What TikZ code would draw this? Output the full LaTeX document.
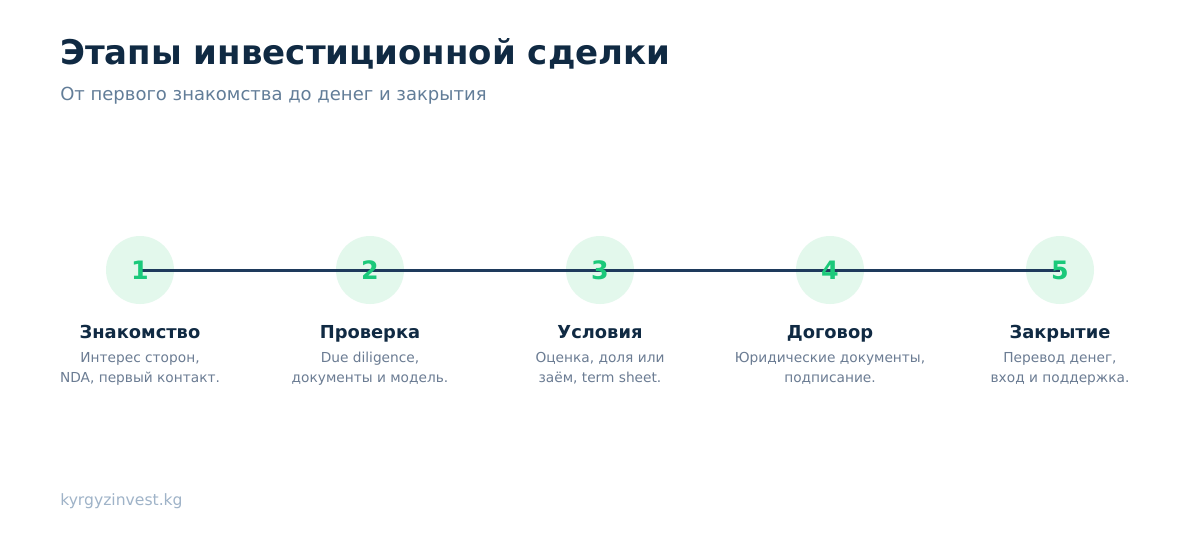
\documentclass[tikz,border=0pt]{standalone}
\usepackage{fontspec}
\setmainfont{DejaVu Sans}
\usepackage{xcolor}
\usetikzlibrary{positioning}
\definecolor{navy}{HTML}{102A43}
\definecolor{slate}{HTML}{627D98}
\definecolor{mint}{HTML}{E3F8EC}
\definecolor{emerald}{HTML}{1BC97A}
\definecolor{rail}{HTML}{1E3A5C}
\definecolor{greytext}{HTML}{6B7C93}
\definecolor{footgrey}{HTML}{9FB3C8}
\tikzstyle{stepdot} = [circle, fill=mint, minimum size=51pt, inner sep=0pt]
\tikzstyle{stepnum} = [text=emerald, font=\bfseries\fontsize{19}{19}\selectfont, inner sep=0pt]
\tikzstyle{steptitle} = [text=navy, font=\bfseries\fontsize{13.4}{15}\selectfont, inner sep=0pt]
\tikzstyle{stepdesc} = [text=greytext, font=\fontsize{10.3}{15}\selectfont, align=center, inner sep=0pt]
\newcommand{\drawstep}[4]{\node[stepdot] (dot#1) at (#2,270) {};
	\node[steptitle, anchor=base] (title#1) at (#2,338) {#3};
	\node[stepdesc, anchor=north] (desc#1) at (#2,352) {#4}}

\begin{document}
\begin{tikzpicture}[x=0.75pt, y=-0.75pt]
	\useasboundingbox[fill=white] (0,0) rectangle (1200,540);
	\node[anchor=base west, inner sep=0pt, text=navy, font=\bfseries\fontsize{25.5}{30}\selectfont] (heading) at (60,64) {Этапы инвестиционной сделки};
	\node[anchor=base west, inner sep=0pt, text=slate, font=\fontsize{13.5}{16}\selectfont] (subheading) at (60,100) {От первого знакомства до денег и закрытия};
	
	\drawstep{1}{140}{Знакомство}{Интерес сторон,\\NDA, первый контакт.};
	\drawstep{2}{370}{Проверка}{Due diligence,\\документы и модель.};
	\drawstep{3}{600}{Условия}{Оценка, доля или\\заём, term sheet.};
	\drawstep{4}{830}{Договор}{Юридические документы,\\подписание.};
	\drawstep{5}{1060}{Закрытие}{Перевод денег,\\вход и поддержка.};
	
	\draw[rail, line width=2.25pt] (dot1.center) -- (dot5.center);
	\foreach \i in {1,...,5}
		\node[stepnum] (num\i) at (dot\i) {\i};
	
	\node[anchor=base west, inner sep=0pt, text=footgrey, font=\fontsize{11.7}{13}\selectfont] (site) at (60,505) {kyrgyzinvest.kg};
\end{tikzpicture}
\end{document}
